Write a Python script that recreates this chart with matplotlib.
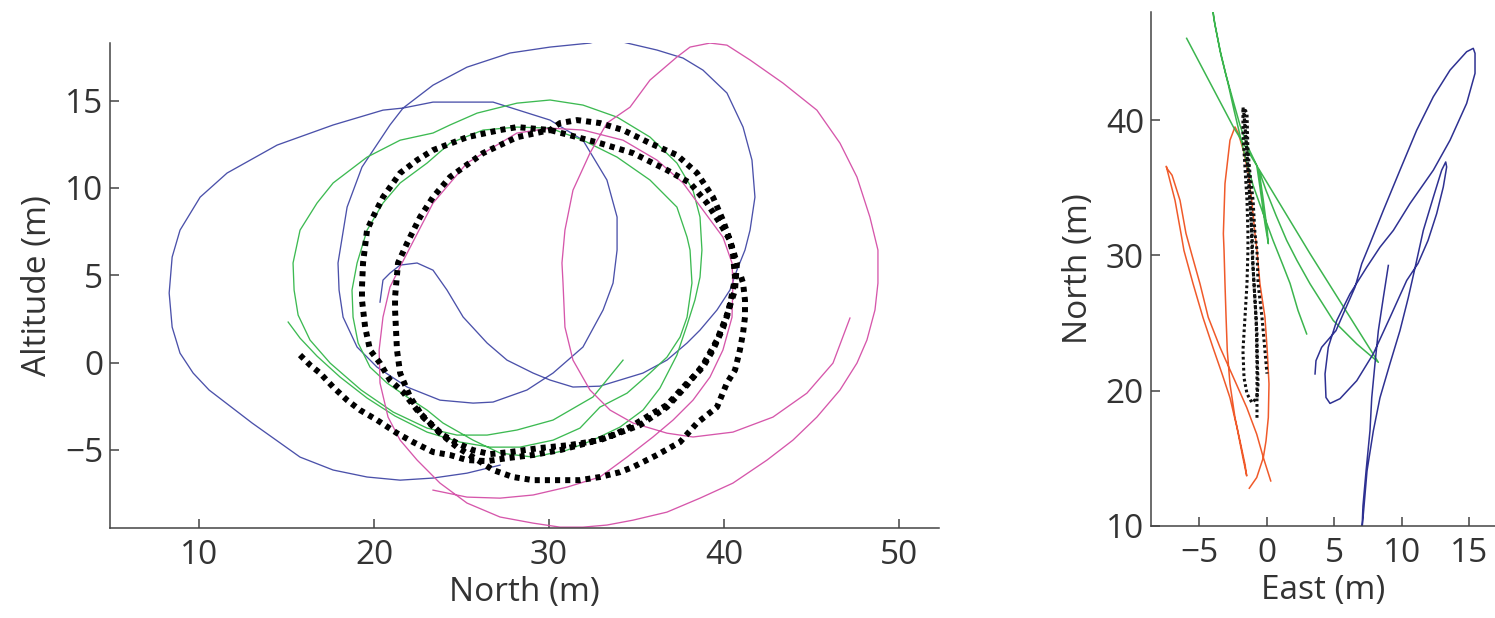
import matplotlib
matplotlib.use("Agg")
import matplotlib.pyplot as plt

# ---- left panel: North (m) vs Altitude (m) ----
blue_north = [20.34, 20.51, 20.91, 21.49, 22.46, 23.37, 24.17, 25.09, 26.46, 27.60, 29.09, 30.06, 31.37, 32.91,
              35.37, 36.74, 37.89, 38.63, 39.60, 40.34, 40.74, 41.20, 41.49, 41.77, 41.60, 41.09, 40.17, 38.80,
              37.66, 36.17, 34.46, 33.37, 32.34, 30.06, 27.77, 25.31, 23.37, 21.66, 20.91, 19.31, 18.46, 17.94,
              18.00, 18.23, 19.03, 20.17, 21.89, 23.77, 25.66, 26.80, 28.74, 30.23, 31.94, 33.09, 33.66, 33.89,
              33.89, 33.31, 31.94, 30.06, 26.80, 23.37, 21.66, 20.51, 17.66, 14.46, 11.60, 10.06, 8.91, 8.46,
              8.29, 8.46, 8.91, 9.66, 10.57, 13.03, 15.77, 17.66, 19.60, 21.49, 23.37, 25.31, 27.20]
blue_alt = [3.46, 4.72, 5.12, 5.58, 5.70, 5.29, 4.15, 2.61, 1.12, 0.14, -0.60, -1.00, -1.40, -1.35,
            -0.60, 0.14, 1.12, 1.86, 3.01, 4.15, 5.29, 6.44, 7.58, 9.47, 11.59, 13.48, 15.43, 16.74,
            17.43, 17.89, 18.29, 18.57, 18.29, 18.06, 17.72, 16.91, 15.88, 14.57, 13.60, 11.19, 8.90, 5.70,
            4.15, 2.60, 0.89, -0.26, -1.40, -2.15, -2.32, -2.26, -1.57, -0.60, 0.89, 3.01, 4.55, 6.44,
            8.33, 10.45, 12.73, 13.88, 14.91, 14.91, 14.57, 14.45, 13.60, 12.45, 10.85, 9.47, 7.58, 6.04,
            3.98, 2.03, 0.54, -0.60, -1.57, -3.46, -5.41, -6.15, -6.55, -6.73, -6.61, -6.33, -5.87]

magenta_north = [23.37, 25.31, 27.20, 29.09, 31.03, 32.91, 34.46, 35.94, 37.09, 38.23, 39.20, 39.94, 40.46,
                 40.51, 40.46, 39.94, 38.80, 37.66, 36.17, 34.23, 31.94, 30.06, 28.17, 25.31, 23.37, 21.60,
                 20.91, 20.51, 20.29, 20.34, 20.80, 21.49, 22.46, 23.77, 25.31, 27.20, 29.09, 30.63, 31.94,
                 33.31, 34.80, 36.74, 38.63, 40.51, 42.46, 43.94, 45.31, 46.63, 47.60, 48.17, 48.63, 48.80,
                 48.80, 48.34, 47.60, 46.63, 45.31, 43.37, 41.49, 40.17, 39.20, 38.06, 37.31, 35.77, 34.63,
                 33.31, 32.34, 31.37, 30.91, 30.74, 30.80, 30.91, 31.37, 32.34, 33.49, 34.80, 36.74, 38.23,
                 40.51, 42.80, 44.74, 46.23, 47.20]
magenta_alt = [-7.30, -7.70, -7.76, -7.58, -7.13, -6.55, -5.41, -4.26, -3.29, -2.15, -0.83, 0.72, 2.60,
               4.55, 5.70, 7.18, 8.73, 10.28, 11.59, 12.73, 13.31, 13.42, 13.14, 11.42, 9.13, 5.70,
               4.32, 2.60, 0.72, -1.17, -3.12, -4.44, -5.58, -6.90, -8.04, -8.84, -9.19, -9.42, -9.42,
               -9.30, -9.02, -8.56, -7.76, -6.90, -5.58, -4.44, -3.12, -1.57, -0.03, 1.29, 3.01, 4.55,
               6.44, 8.33, 10.62, 12.56, 14.45, 16.00, 17.32, 18.17, 18.29, 18.06, 17.49, 16.17, 14.62,
               13.71, 11.99, 9.87, 7.58, 5.70, 4.55, 2.03, 0.14, -1.57, -2.72, -3.46, -4.04, -4.26,
               -3.98, -3.12, -1.75, -0.03, 2.55]

green_north = [15.09, 15.77, 16.74, 18.06, 19.60, 21.20, 23.03, 24.91, 26.63, 28.34, 30.23, 31.77, 32.91,
               34.46, 35.77, 36.74, 37.49, 37.89, 38.17, 38.06, 37.89, 37.31, 35.77, 33.89, 31.94, 30.06,
               28.17, 26.23, 24.34, 23.03, 21.49, 20.51, 19.60, 19.03, 18.74, 18.80, 19.09, 19.77, 20.74,
               21.89, 23.03, 23.94, 25.66, 27.20, 29.09, 31.03, 32.51, 34.06, 35.37, 36.34, 37.31, 37.89,
               38.34, 38.63, 38.74, 38.63, 38.23, 37.31, 35.77, 33.89, 31.94, 30.06, 28.17, 25.89, 24.34,
               23.37, 21.49, 19.60, 17.66, 16.74, 15.77, 15.37, 15.43, 15.66, 16.34, 17.49, 19.26, 21.09,
               23.03, 24.74, 26.46, 28.17, 30.23, 32.51, 34.23]
green_alt = [2.32, 1.40, 0.37, -0.83, -2.03, -3.06, -3.98, -4.55, -4.84, -4.84, -4.44, -3.75, -2.55,
             -1.75, -0.60, 0.31, 1.46, 2.60, 4.55, 6.44, 7.18, 8.90, 10.45, 11.76, 12.73, 13.42,
             13.48, 13.31, 12.56, 11.42, 10.28, 9.13, 7.58, 5.70, 4.15, 2.60, 1.12, -0.26, -1.17,
             -1.97, -2.72, -3.46, -4.44, -5.18, -5.41, -5.01, -4.44, -3.69, -2.72, -1.46, 0.43, 2.15,
             3.58, 4.89, 6.44, 8.33, 9.87, 11.42, 12.91, 14.05, 14.74, 15.03, 14.85, 14.28, 13.60,
             13.14, 12.73, 11.76, 10.28, 9.13, 7.58, 5.70, 4.15, 2.72, 1.29, -0.03, -1.57, -2.83,
             -3.75, -4.15, -4.15, -3.86, -3.29, -1.97, 0.14]

black_north = [15.77, 16.34, 16.91, 17.66, 18.46, 19.20, 20.17, 21.31, 22.23, 23.37, 24.34, 25.31, 26.46,
               27.60, 29.09, 30.63, 32.17, 33.66, 34.63, 35.94, 36.74, 37.89, 38.80, 39.37, 39.94, 40.23,
               40.51, 40.63, 40.51, 40.34, 39.77, 39.03, 38.06, 36.74, 34.80, 32.91, 30.06, 28.17, 27.20,
               25.31, 23.37, 22.46, 21.49, 20.51, 19.94, 19.60, 19.37, 19.31, 19.31, 19.49, 19.77, 20.34,
               20.91, 21.66, 22.46, 23.20, 23.94, 24.74, 25.66, 26.63, 27.77, 29.49, 31.20, 32.91, 35.20,
               36.74, 37.89, 38.80, 39.60, 40.17, 40.63, 40.74, 40.34, 39.94, 39.37, 38.46, 37.31, 35.77,
               34.23, 32.91, 31.60, 30.63, 30.06, 28.17, 26.23, 24.34, 23.37, 22.63, 21.89, 21.37, 21.20,
               21.20, 21.31, 21.49, 22.06, 22.80, 23.77, 24.74, 25.66, 26.80, 27.94, 29.09, 30.46, 31.77,
               32.91, 34.06, 34.80, 36.17, 37.49, 38.46, 39.60, 40.17, 40.63, 40.91, 41.09, 41.20, 41.20,
               41.09, 40.91]
black_alt = [0.43, -0.14, -0.60, -1.40, -2.15, -2.72, -3.29, -4.04, -4.55, -5.12, -5.29, -5.58, -5.64,
             -5.47, -5.29, -5.01, -4.61, -4.15, -3.69, -2.89, -2.43, -1.17, -0.26, 0.72, 1.97, 2.83,
             4.15, 4.89, 6.27, 7.01, 7.98, 9.13, 10.28, 11.02, 11.99, 12.56, 13.31, 13.48, 13.31,
             12.90, 12.16, 11.59, 10.85, 9.47, 8.33, 7.58, 5.70, 4.32, 3.58, 2.03, 0.72, -0.03,
             -1.00, -1.69, -2.72, -3.46, -4.15, -4.61, -5.01, -5.24, -5.12, -4.89, -4.72, -4.44, -3.58,
             -2.55, -1.29, -0.14, 1.29, 2.72, 4.15, 5.70, 7.01, 8.15, 9.47, 10.85, 11.88, 12.56,
             13.31, 13.71, 13.88, 13.71, 13.31, 12.90, 11.99, 10.62, 9.47, 8.33, 6.84, 5.70, 3.75,
             3.01, 0.72, -0.60, -1.97, -3.12, -4.04, -4.84, -5.41, -6.15, -6.55, -6.73, -6.73, -6.73,
             -6.55, -6.27, -5.98, -5.29, -4.55, -3.46, -2.55, -1.17, -0.43, 0.72, 1.69, 2.60, 3.58,
             4.55, 5.12]

# ---- right panel: East (m) vs North (m) ----
red_east = [0.30, -0.25, -0.74, -1.48, -2.47, -3.46, -4.33, -4.94, -5.53, -5.98, -6.42, -7.01, -7.39,
            -7.44, -6.79, -6.35, -6.13, -5.46, -4.72, -3.98, -3.31, -2.72, -2.20, -1.76, -1.48,
            -1.61, -1.98, -2.35, -2.72, -2.92, -3.01, -3.09, -3.16, -3.21, -3.09, -2.72, -2.35,
            -2.10, -1.73, -1.36, -1.11, -0.87, -0.72, -0.50, -0.13, 0.04, 0.17, 0.12, -0.05, -0.25,
            -0.74, -1.29]
red_north = [13.33, 15.06, 16.79, 18.76, 20.99, 23.21, 25.43, 27.90, 30.00, 31.63, 34.07, 35.93, 36.44,
             36.59, 34.07, 31.63, 30.37, 27.93, 25.41, 23.19, 21.26, 19.48, 17.26, 15.04, 13.70,
             14.57, 16.30, 18.02, 20.50, 22.96, 25.43, 27.90, 30.37, 31.61, 35.31, 38.52, 39.50,
             39.01, 37.78, 36.05, 34.07, 31.61, 30.37, 27.90, 25.43, 22.96, 20.50, 18.02, 16.30, 15.06,
             13.58, 12.79]

navy_east = [9.01, 8.64, 8.27, 8.02, 7.78, 7.65, 7.36, 7.13, 7.06, 7.21, 7.43, 7.90, 8.39, 9.13, 9.87,
             10.49, 11.06, 11.60, 12.34, 12.96, 13.26, 13.33, 13.08, 12.59, 11.95, 11.21, 10.37, 9.13,
             7.90, 6.67, 5.43, 4.69, 4.39, 4.32, 4.56, 5.19, 6.17, 7.41, 8.39, 9.38, 10.61, 12.34, 13.58,
             14.81, 15.43, 15.43, 15.30, 14.81, 13.58, 12.34, 11.11, 9.87, 8.64, 7.65, 7.04, 6.54, 5.67,
             5.13, 4.07, 3.65, 3.58]
navy_north = [29.26, 26.89, 24.44, 22.00, 19.48, 17.04, 14.07, 11.48, 9.78, 11.48, 14.07, 17.04, 19.48,
              22.00, 24.44, 26.89, 29.41, 31.85, 34.30, 36.30, 36.91, 36.54, 35.06, 33.09, 31.11, 29.41,
              28.15, 25.41, 22.74, 20.74, 19.41, 19.06, 19.50, 21.24, 23.21, 25.19, 27.16, 29.13, 30.61,
              31.85, 33.83, 36.30, 38.52, 41.24, 43.46, 44.94, 45.31, 45.06, 43.70, 41.73, 39.26, 36.30,
              33.33, 30.87, 29.39, 27.65, 25.68, 24.44, 23.21, 22.22, 21.24]

lime_east = [2.96, 2.32, 1.73, 1.21, 0.47, -0.27, -1.01, -1.53, -1.98, -2.42, -2.87, -3.39, -3.83, -4.05,
             -3.90, -3.46, -3.01, -2.50, -1.98, -1.46, -0.74, -0.50, -0.13, 0.12, 0.04, -0.25, -0.57,
             -0.05, 0.69, 1.48, 2.24, 3.21, 4.93, 6.67, 8.27, 3.21, -2.47, -5.93]
lime_north = [24.20, 25.93, 27.93, 29.26, 31.11, 33.11, 35.19, 37.04, 38.89, 40.74, 42.74, 44.81, 47.04,
              48.52, 47.41, 45.19, 43.33, 41.48, 39.63, 38.15, 36.67, 35.04, 32.37, 30.87, 31.85, 34.07,
              36.30, 34.81, 32.96, 31.11, 29.63, 27.90, 25.19, 23.46, 22.10, 30.13, 39.50, 46.05]

dots_east = [-0.72, -0.72, -0.72, -0.72, -0.87, -1.01, -1.09, -1.24, -1.39, -1.53, -1.68, -1.76, -1.76,
             -1.61, -1.46, -1.39, -1.39, -1.46, -1.61, -1.76, -1.68, -1.46, -1.09, -0.72, -0.64, -0.72,
             -0.79, -0.94, -1.09, -1.16, -1.31, -1.46, -1.61, -1.68, -1.46, -1.39, -1.24, -1.01, -0.87,
             -0.72, -0.64, -0.35, -0.13, 0.02]
dots_north = [18.00, 19.26, 21.70, 24.22, 26.67, 29.11, 31.63, 34.07, 36.52, 38.52, 40.37, 40.96, 39.04,
              36.52, 34.07, 31.63, 30.37, 27.93, 25.41, 22.96, 20.96, 19.78, 19.11, 19.48, 20.52, 22.96,
              25.41, 27.93, 30.37, 32.81, 35.33, 37.78, 40.00, 40.89, 40.52, 37.78, 36.07, 34.07, 31.63,
              30.37, 27.93, 25.41, 22.96, 21.26]

plt.rcParams["font.family"] = ["Open Sans", "DejaVu Sans"]
TXT = "#333333"

fig = plt.figure(figsize=(14.95, 6.18), dpi=100)
ax1 = fig.add_axes([0.0736, 0.1456, 0.5545, 0.7853])
ax2 = fig.add_axes([0.7699, 0.1489, 0.2301, 0.8322])

ax1.plot(blue_north, blue_alt, color="#4b51aa", lw=0.95)
ax1.plot(green_north, green_alt, color="#3dba52", lw=0.95)
ax1.plot(magenta_north, magenta_alt, color="#d657ab", lw=0.95)
# the tracked points: a dashed thick line gives the row of black blobs
ax1.plot(black_north, black_alt, color="black", lw=4.3, dashes=(0.85, 0.85),
         dash_capstyle="butt", zorder=5)

ax2.plot(red_east, red_north, color="#f05a2a", lw=1.1)
ax2.plot(lime_east, lime_north, color="#3cb54e", lw=1.1)
ax2.plot(navy_east, navy_north, color="#2e3192", lw=1.1)
ax2.plot(dots_east, dots_north, color="#111111", lw=2.2, dashes=(0.9, 0.9),
         dash_capstyle="butt", zorder=5)

ax1.set_xlim(4.91, 52.29)
ax1.set_ylim(-9.47, 18.31)
ax1.set_xticks([10, 20, 30, 40, 50])
ax1.set_yticks([-5, 0, 5, 10, 15])
ax1.set_xlabel("North (m)", fontsize=24, color=TXT, labelpad=3)
ax1.set_ylabel("Altitude (m)", fontsize=24, color=TXT, labelpad=8)

ax2.set_xlim(-8.57, 16.91)
ax2.set_ylim(10, 48.02)
ax2.set_xticks([-5, 0, 5, 10, 15])
ax2.set_yticks([10, 20, 30, 40])
ax2.set_xlabel("East (m)", fontsize=24, color=TXT, labelpad=3)
ax2.set_ylabel("North (m)", fontsize=24, color=TXT, labelpad=8)

for ax in (ax1, ax2):
    for side in ("top", "right"):
        ax.spines[side].set_visible(False)
    for side in ("left", "bottom"):
        ax.spines[side].set_linewidth(1.1)
        ax.spines[side].set_color("#444444")
    ax.tick_params(direction="in", length=6.5, width=1.1, color="#444444",
                   labelsize=24, labelcolor=TXT)
    ax.tick_params(axis="x", pad=8)
    ax.tick_params(axis="y", pad=5)

fig.savefig("out.png", dpi=100, facecolor="white")
